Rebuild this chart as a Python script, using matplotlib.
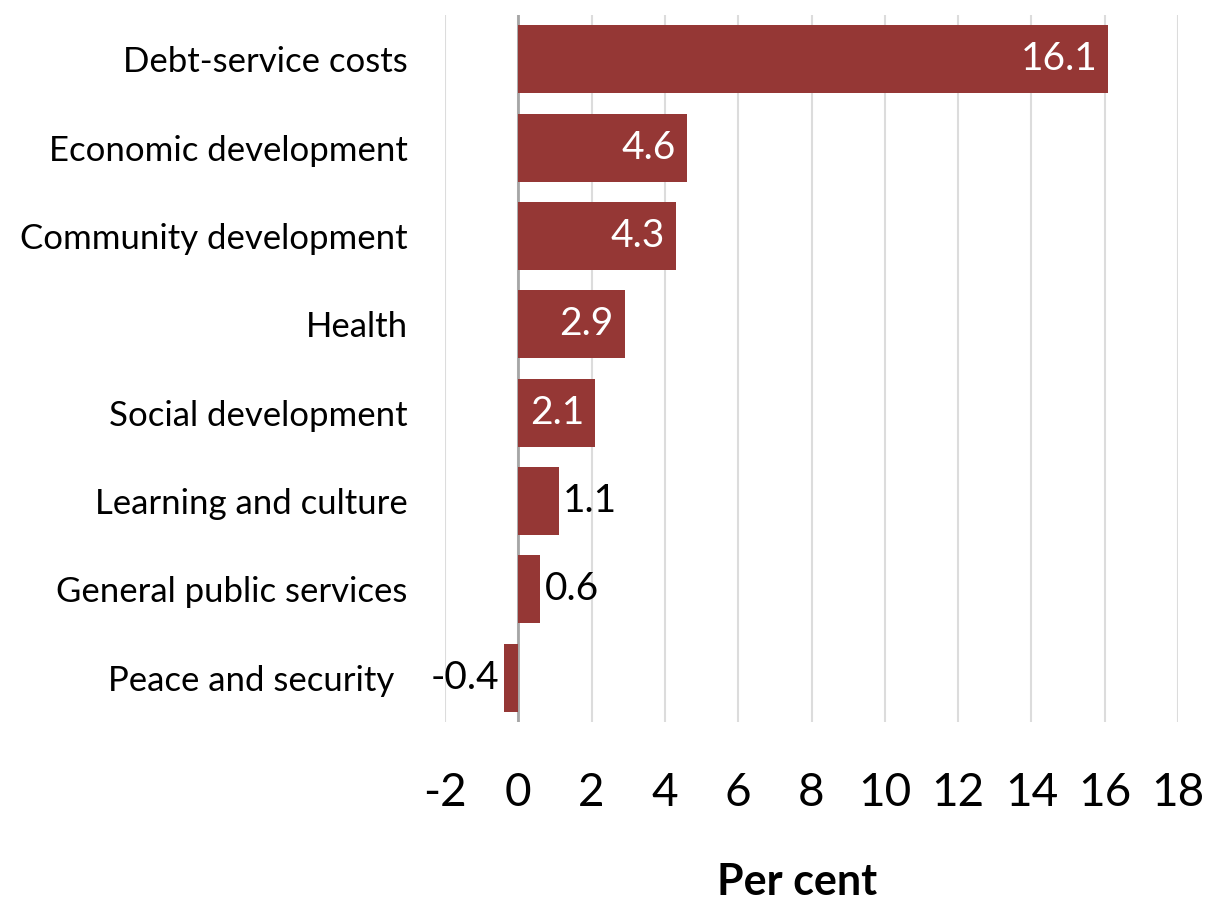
import matplotlib.pyplot as plt
import matplotlib.transforms as mtransforms

# dane
kategorie = ["Debt-service costs", "Economic development", "Community development",
             "Health", "Social development", "Learning and culture",
             "General public services", "Peace and security"]
wartosci = [16.1, 4.6, 4.3, 2.9, 2.1, 1.1, 0.6, -0.4]
x_ticks = [-2, 0, 2, 4, 6, 8, 10, 12, 14, 16, 18]

plt.rcParams['font.family'] = ['Lato', 'DejaVu Sans']

fig = plt.figure(figsize=(12.07, 9.02), dpi=100)
ax = fig.add_axes([0.3687, 0.1996, 0.976 - 0.3687, 0.9834 - 0.1996])

kolor = "#953735"
pozycje = list(range(len(kategorie)))
ax.barh(pozycje, wartosci, height=0.77, color=kolor, zorder=3)

# etykiety wartosci
for y, v in zip(pozycje, wartosci):
    if v >= 2:
        ax.annotate(f"{v}", (v, y), xytext=(-8, 0), textcoords="offset points",
                    ha="right", va="center", color="white", fontsize=28, zorder=4)
    elif v >= 0:
        ax.annotate(f"{v}", (v, y), xytext=(3, 0), textcoords="offset points",
                    ha="left", va="center", color="black", fontsize=28, zorder=4)
    else:
        ax.annotate(f"{v}", (v, y), xytext=(-3, 0), textcoords="offset points",
                    ha="right", va="center", color="black", fontsize=28, zorder=4)

ax.set_xlim(-2, 18)
ax.set_ylim(7.5, -0.5)
ax.set_xticks(x_ticks)
ax.set_xticklabels([str(t) for t in x_ticks], fontsize=33)
ax.set_yticks(pozycje)
ax.set_yticklabels(kategorie, fontsize=25)
ax.tick_params(axis="x", length=0, pad=36)
ax.tick_params(axis="y", length=0, pad=27)

# ostatnia etykieta lekko przesunieta w lewo (jak w oryginale)
ostatnia = ax.get_yticklabels()[-1]
ostatnia.set_transform(ostatnia.get_transform() +
                       mtransforms.ScaledTranslation(-0.13, 0, fig.dpi_scale_trans))

ax.grid(axis="x", color="#dcdcdc", linewidth=1.5, zorder=0)
ax.axvline(0, color="#a6a6a6", linewidth=2, zorder=2)
for s in ax.spines.values():
    s.set_visible(False)

# opis osi x
fig.text(797 / 1207, 1 - 895 / 902, "Per cent", fontsize=31, fontweight="bold",
         ha="center", va="baseline")

plt.savefig("out.png", dpi=100)
